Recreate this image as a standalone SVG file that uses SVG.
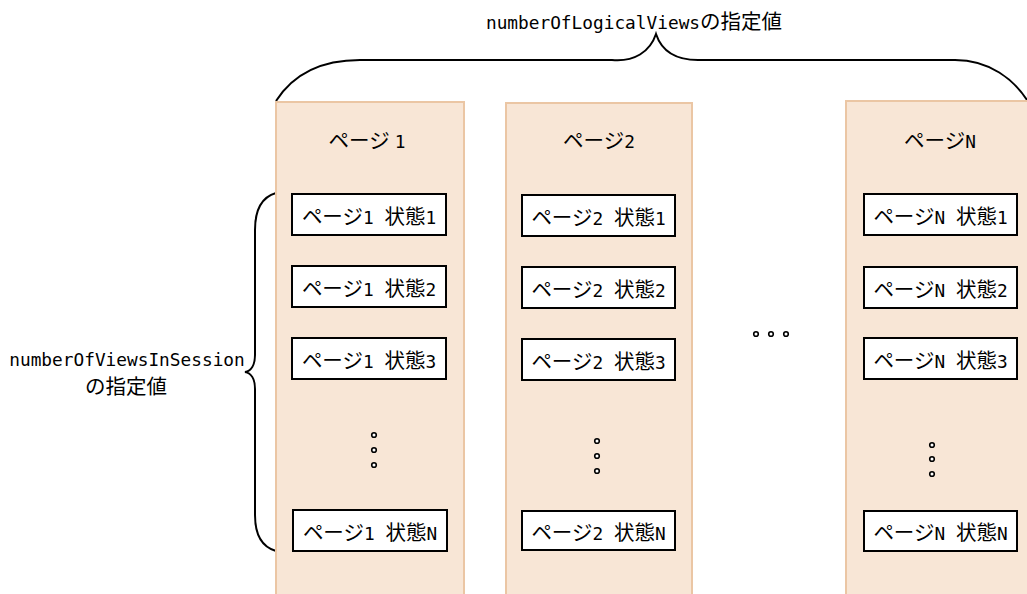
<svg xmlns="http://www.w3.org/2000/svg" width="1027" height="594" viewBox="0 0 1027 594">
<style>
.col{fill:#F8E6D6;stroke:#EBC6A4;stroke-width:2}
.box{fill:#ffffff;stroke:#000;stroke-width:2}
.brace{fill:none;stroke:#000;stroke-width:2}
.dot{fill:#fff;stroke:#000;stroke-width:1.6}
text{fill:#000;text-anchor:middle}
.ja{font-family:"Noto Sans CJK JP","Noto Sans CJK SC",sans-serif;font-size:20.5px}
.la{font-family:"DejaVu Sans Mono","Liberation Mono",monospace;font-size:17.8px}
</style>
<rect width="1027" height="594" fill="#fff"/>
<g id="connectors">
<path class="brace" d="M276,101 C292,76 318,60 360,60 L612,60 C634,62 650,52 656,34 C662,52 676,60 698,60 L955,60 C990,60 1014,80 1027,100"/>
<path class="brace" d="M276,193 C262,197 255,210 255,230 L255,355 C255,365 251,371 245,372 C251,373 255,379 255,389 L255,515 C255,535 262,547 276,551"/>
</g>
<g id="label-logical"><text x="634" y="29"><tspan class="la">numberOfLogicalViews</tspan><tspan class="ja">の指定値</tspan></text></g>
<g id="label-session">
<text class="la" x="127" y="366">numberOfViewsInSession</text>
<text class="ja" x="126" y="394">の指定値</text>
</g>
<g id="page1">
<rect class="col" x="276" y="102" width="188" height="500"/>
<text x="367" y="148"><tspan class="ja">ページ</tspan><tspan class="la" dx="5">1</tspan></text>
</g>
<g id="page2">
<rect class="col" x="506" y="103" width="186" height="500"/>
<text x="599" y="148"><tspan class="ja">ページ</tspan><tspan class="la">2</tspan></text>
</g>
<g id="pageN">
<rect class="col" x="846" y="101" width="200" height="500"/>
<text x="940" y="148"><tspan class="ja">ページ</tspan><tspan class="la">N</tspan></text>
</g>
<g id="p1s1"><rect class="box" x="292" y="194" width="154" height="41"/><text x="369" y="224"><tspan class="ja">ページ</tspan><tspan class="la" xml:space="preserve">1 </tspan><tspan class="ja">状態</tspan><tspan class="la">1</tspan></text></g>
<g id="p1s2"><rect class="box" x="292" y="266" width="154" height="41"/><text x="369" y="296"><tspan class="ja">ページ</tspan><tspan class="la" xml:space="preserve">1 </tspan><tspan class="ja">状態</tspan><tspan class="la">2</tspan></text></g>
<g id="p1s3"><rect class="box" x="292" y="338" width="154" height="41"/><text x="369" y="368"><tspan class="ja">ページ</tspan><tspan class="la" xml:space="preserve">1 </tspan><tspan class="ja">状態</tspan><tspan class="la">3</tspan></text></g>
<g id="p1sN"><rect class="box" x="293" y="510" width="154" height="41"/><text x="370" y="540"><tspan class="ja">ページ</tspan><tspan class="la" xml:space="preserve">1 </tspan><tspan class="ja">状態</tspan><tspan class="la">N</tspan></text></g>
<g id="p2s1"><rect class="box" x="522" y="195" width="153" height="41"/><text x="598.5" y="225"><tspan class="ja">ページ</tspan><tspan class="la" xml:space="preserve">2 </tspan><tspan class="ja">状態</tspan><tspan class="la">1</tspan></text></g>
<g id="p2s2"><rect class="box" x="522" y="267" width="153" height="41"/><text x="598.5" y="297"><tspan class="ja">ページ</tspan><tspan class="la" xml:space="preserve">2 </tspan><tspan class="ja">状態</tspan><tspan class="la">2</tspan></text></g>
<g id="p2s3"><rect class="box" x="522" y="339" width="153" height="41"/><text x="598.5" y="369"><tspan class="ja">ページ</tspan><tspan class="la" xml:space="preserve">2 </tspan><tspan class="ja">状態</tspan><tspan class="la">3</tspan></text></g>
<g id="p2sN"><rect class="box" x="522" y="511" width="153" height="39"/><text x="598.5" y="540"><tspan class="ja">ページ</tspan><tspan class="la" xml:space="preserve">2 </tspan><tspan class="ja">状態</tspan><tspan class="la">N</tspan></text></g>
<g id="pNs1"><rect class="box" x="864" y="194" width="153" height="41"/><text x="940.5" y="224"><tspan class="ja">ページ</tspan><tspan class="la" xml:space="preserve">N </tspan><tspan class="ja">状態</tspan><tspan class="la">1</tspan></text></g>
<g id="pNs2"><rect class="box" x="864" y="267" width="153" height="41"/><text x="940.5" y="297"><tspan class="ja">ページ</tspan><tspan class="la" xml:space="preserve">N </tspan><tspan class="ja">状態</tspan><tspan class="la">2</tspan></text></g>
<g id="pNs3"><rect class="box" x="864" y="338" width="153" height="41"/><text x="940.5" y="368"><tspan class="ja">ページ</tspan><tspan class="la" xml:space="preserve">N </tspan><tspan class="ja">状態</tspan><tspan class="la">3</tspan></text></g>
<g id="pNsN"><rect class="box" x="864" y="511" width="153" height="40"/><text x="940.5" y="540"><tspan class="ja">ページ</tspan><tspan class="la" xml:space="preserve">N </tspan><tspan class="ja">状態</tspan><tspan class="la">N</tspan></text></g>
<g id="dots">
<circle class="dot" cx="374" cy="435" r="2.3"/><circle class="dot" cx="374" cy="450" r="2.3"/><circle class="dot" cx="374" cy="465" r="2.3"/>
<circle class="dot" cx="597" cy="441" r="2.3"/><circle class="dot" cx="597" cy="456" r="2.3"/><circle class="dot" cx="597" cy="471" r="2.3"/>
<circle class="dot" cx="932" cy="445" r="2.3"/><circle class="dot" cx="932" cy="459" r="2.3"/><circle class="dot" cx="932" cy="474" r="2.3"/>
<circle class="dot" cx="756" cy="334" r="2.3"/><circle class="dot" cx="771" cy="334" r="2.3"/><circle class="dot" cx="786" cy="334" r="2.3"/>
</g>
</svg>
